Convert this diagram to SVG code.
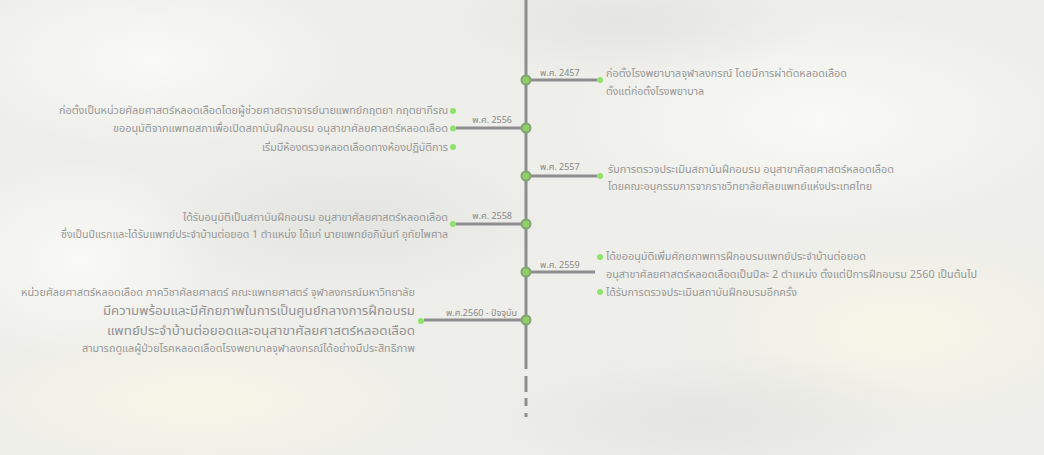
<svg xmlns="http://www.w3.org/2000/svg" width="1044" height="455" viewBox="0 0 1044 455">
<defs>
<radialGradient id="cw" cx="50%" cy="50%" r="50%"><stop offset="0" stop-color="#fafaf6" stop-opacity="0.9"/><stop offset="1" stop-color="#fafaf6" stop-opacity="0"/></radialGradient>
<radialGradient id="cd" cx="50%" cy="50%" r="50%"><stop offset="0" stop-color="#e2e2de" stop-opacity="0.8"/><stop offset="1" stop-color="#e2e2de" stop-opacity="0"/></radialGradient>
<radialGradient id="cy" cx="50%" cy="50%" r="50%"><stop offset="0" stop-color="#f6f6e6" stop-opacity="0.9"/><stop offset="1" stop-color="#f6f6e6" stop-opacity="0"/></radialGradient>
</defs>
<style>
.t{font-family:"Noto Sans Thai","Noto Sans","DejaVu Sans",sans-serif;font-size:10.5px;fill:#979797}
.big{font-size:13px;fill:#939393}
.y{font-family:"Noto Sans Thai","Noto Sans","DejaVu Sans",sans-serif;font-size:9px;fill:#888888}
.ln{stroke:#8e8e8e;stroke-width:3;fill:none}
.nd{fill:#8fd066;stroke:#84a276;stroke-width:2}
.dt{fill:#8ee36c}
.r{text-anchor:end}
</style>
<g id="background">
<rect width="1044" height="455" fill="#eeeeea"/>
<ellipse cx="150" cy="60" rx="200" ry="90" fill="url(#cw)"/>
<ellipse cx="820" cy="120" rx="260" ry="110" fill="url(#cw)"/>
<ellipse cx="350" cy="220" rx="220" ry="90" fill="url(#cd)"/>
<ellipse cx="900" cy="330" rx="220" ry="100" fill="url(#cy)"/>
<ellipse cx="200" cy="400" rx="260" ry="80" fill="url(#cy)"/>
<ellipse cx="700" cy="420" rx="240" ry="70" fill="url(#cd)"/>
<ellipse cx="620" cy="20" rx="200" ry="60" fill="url(#cd)"/>
<ellipse cx="80" cy="260" rx="140" ry="100" fill="url(#cw)"/>
</g>
<g id="connectors">
<line class="ln" x1="526" y1="0" x2="526" y2="369"/>
<line class="ln" x1="526" y1="376" x2="526" y2="392"/>
<line class="ln" x1="526" y1="398" x2="526" y2="406"/>
<line class="ln" x1="526" y1="413" x2="526" y2="417"/>
<line class="ln" x1="526" y1="80" x2="597" y2="80"/>
<line class="ln" x1="456" y1="128" x2="526" y2="128"/>
<line class="ln" x1="526" y1="176" x2="597" y2="176"/>
<line class="ln" x1="456" y1="224" x2="526" y2="224"/>
<line class="ln" x1="526" y1="272" x2="595" y2="272"/>
<line class="ln" x1="424" y1="320" x2="526" y2="320"/>
</g>
<g id="event-2457">
<circle class="nd" cx="526" cy="80" r="4.5"/>
<text class="y" x="540" y="76">พ.ศ. 2457</text>
<circle class="dt" cx="600" cy="80" r="3"/>
<text class="t" x="606" y="77" textLength="241" lengthAdjust="spacingAndGlyphs">ก่อตั้งโรงพยาบาลจุฬาลงกรณ์ โดยมีการผ่าตัดหลอดเลือด</text>
<text class="t" x="606" y="95" textLength="98" lengthAdjust="spacingAndGlyphs">ตั้งแต่ก่อตั้งโรงพยาบาล</text>
</g>
<g id="event-2556">
<circle class="nd" cx="526" cy="128" r="4.5"/>
<text class="y r" x="512" y="123">พ.ศ. 2556</text>
<circle class="dt" cx="453" cy="111" r="3"/>
<circle class="dt" cx="453" cy="128.5" r="3"/>
<circle class="dt" cx="453" cy="147" r="3"/>
<text class="t r" x="448" y="114" textLength="389" lengthAdjust="spacingAndGlyphs">ก่อตั้งเป็นหน่วยศัลยศาสตร์หลอดเลือดโดยผู้ช่วยศาสตราจารย์นายแพทย์กฤตยา กฤตยากีรณ</text>
<text class="t r" x="448" y="132" textLength="335" lengthAdjust="spacingAndGlyphs">ขออนุมัติจากแพทยสภาเพื่อเปิดสถาบันฝึกอบรม อนุสาขาศัลยศาสตร์หลอดเลือด</text>
<text class="t r" x="448" y="151" textLength="186" lengthAdjust="spacingAndGlyphs">เริ่มมีห้องตรวจหลอดเลือดทางห้องปฏิบัติการ</text>
</g>
<g id="event-2557">
<circle class="nd" cx="526" cy="176" r="4.5"/>
<text class="y" x="540" y="170">พ.ศ. 2557</text>
<circle class="dt" cx="600" cy="176" r="3"/>
<text class="t" x="608" y="173" textLength="286" lengthAdjust="spacingAndGlyphs">รับการตรวจประเมินสถาบันฝึกอบรม อนุสาขาศัลยศาสตร์หลอดเลือด</text>
<text class="t" x="608" y="190" textLength="264" lengthAdjust="spacingAndGlyphs">โดยคณะอนุกรรมการจากราชวิทยาลัยศัลยแพทย์แห่งประเทศไทย</text>
</g>
<g id="event-2558">
<circle class="nd" cx="526" cy="224" r="4.5"/>
<text class="y r" x="512" y="219">พ.ศ. 2558</text>
<circle class="dt" cx="453" cy="224" r="3"/>
<text class="t r" x="448" y="221" textLength="265" lengthAdjust="spacingAndGlyphs">ได้รับอนุมัติเป็นสถาบันฝึกอบรม อนุสาขาศัลยศาสตร์หลอดเลือด</text>
<text class="t r" x="448" y="238" textLength="387" lengthAdjust="spacingAndGlyphs">ซึ่งเป็นปีแรกและได้รับแพทย์ประจำบ้านต่อยอด 1 ตำแหน่ง ได้แก่ นายแพทย์อภินันท์ อุทัยไพศาล</text>
</g>
<g id="event-2559">
<circle class="nd" cx="526" cy="272" r="4.5"/>
<text class="y" x="540" y="268">พ.ศ. 2559</text>
<circle class="dt" cx="600" cy="257" r="3"/>
<circle class="dt" cx="600" cy="292" r="3"/>
<text class="t" x="606" y="260" textLength="260" lengthAdjust="spacingAndGlyphs">ได้ขออนุมัติเพิ่มศักยภาพการฝึกอบรมแพทย์ประจำบ้านต่อยอด</text>
<text class="t" x="606" y="278" textLength="371" lengthAdjust="spacingAndGlyphs">อนุสาขาศัลยศาสตร์หลอดเลือดเป็นปีละ 2 ตำแหน่ง ตั้งแต่ปีการฝึกอบรม 2560 เป็นต้นไป</text>
<text class="t" x="606" y="296" textLength="191" lengthAdjust="spacingAndGlyphs">ได้รับการตรวจประเมินสถาบันฝึกอบรมอีกครั้ง</text>
</g>
<g id="event-2560">
<circle class="nd" cx="526" cy="320" r="4.5"/>
<text class="y r" x="517" y="316">พ.ศ.2560 - ปัจจุบัน</text>
<circle class="dt" cx="421" cy="321" r="3"/>
<text class="t r" x="415" y="296" textLength="394" lengthAdjust="spacingAndGlyphs">หน่วยศัลยศาสตร์หลอดเลือด ภาควิชาศัลยศาสตร์ คณะแพทยศาสตร์ จุฬาลงกรณ์มหาวิทยาลัย</text>
<text class="t big r" x="415" y="315" textLength="312" lengthAdjust="spacingAndGlyphs">มีความพร้อมและมีศักยภาพในการเป็นศูนย์กลางการฝึกอบรม</text>
<text class="t big r" x="415" y="334.5" textLength="308" lengthAdjust="spacingAndGlyphs">แพทย์ประจำบ้านต่อยอดและอนุสาขาศัลยศาสตร์หลอดเลือด</text>
<text class="t r" x="415" y="352" textLength="333" lengthAdjust="spacingAndGlyphs">สามารถดูแลผู้ป่วยโรคหลอดเลือดโรงพยาบาลจุฬาลงกรณ์ได้อย่างมีประสิทธิภาพ</text>
</g>
</svg>
